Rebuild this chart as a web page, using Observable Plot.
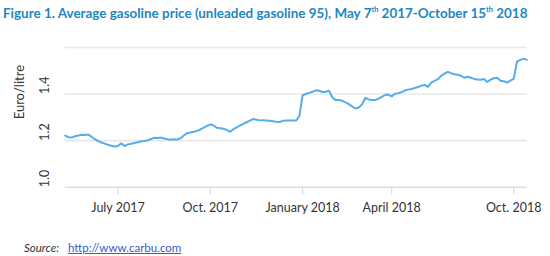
<!DOCTYPE html>
<html>
<head>
<meta charset="utf-8">
<script src="https://cdn.jsdelivr.net/npm/d3@7"></script>
<script src="https://cdn.jsdelivr.net/npm/@observablehq/plot@0.6"></script>
<style>
  html, body { margin: 0; padding: 0; background: #fff; }
  #wrap { width: 550px; height: 256px; position: relative; overflow: hidden; font-family: Lato, "Open Sans", sans-serif; }
  #title { height: 30px; box-sizing: border-box; padding: 4px 0 0 3px; font-weight: bold; font-size: 13.2px; color: #1d86c4; white-space: nowrap; line-height: 18px; }
  #title span { display: inline-block; }
  #title sup { font-size: 0.55em; vertical-align: 0; position: relative; top: -0.75em; }
  #source { height: 26px; box-sizing: border-box; padding: 11px 0 0 24px; font-size: 11.5px; color: #333; white-space: nowrap; }
  #source i { margin-right: 6px; }
  #source a { color: #3a5bc7; text-decoration: underline; }
</style>
</head>
<body>
<div id="wrap">
  <div id="title"><span id="tt">Figure 1. Average gasoline price (unleaded gasoline 95), May 7<sup>th</sup> 2017-October 15<sup>th</sup> 2018</span></div>
  <div id="chart"></div>
  <div id="source"><i>Source:</i> <a href="http://www.carbu.com">http://www.carbu.com</a></div>
</div>
<script>
// Average gasoline price (Euro/litre), observations in order, May 7th 2017 - October 15th 2018
const prices = [
  1.222, 1.214, 1.213, 1.219, 1.222, 1.225, 1.224, 1.226, 1.217, 1.206,
  1.198, 1.192, 1.187, 1.182, 1.178, 1.175, 1.177, 1.189, 1.177, 1.184,
  1.187, 1.190, 1.193, 1.197, 1.198, 1.201, 1.207, 1.212, 1.211, 1.213,
  1.209, 1.206, 1.204, 1.206, 1.205, 1.210, 1.222, 1.232, 1.235, 1.238,
  1.242, 1.248, 1.256, 1.263, 1.270, 1.265, 1.255, 1.253, 1.251, 1.246,
  1.238, 1.249, 1.257, 1.265, 1.272, 1.279, 1.286, 1.293, 1.290, 1.287,
  1.288, 1.286, 1.285, 1.283, 1.281, 1.280, 1.285, 1.287, 1.286, 1.287,
  1.286, 1.305, 1.395, 1.400, 1.405, 1.410, 1.416, 1.414, 1.409, 1.410,
  1.414, 1.385, 1.374, 1.375, 1.371, 1.364, 1.357, 1.347, 1.338, 1.342,
  1.355, 1.383, 1.377, 1.375, 1.374, 1.380, 1.388, 1.396, 1.398, 1.390,
  1.401, 1.404, 1.408, 1.415, 1.419, 1.422, 1.426, 1.430, 1.436, 1.439,
  1.431, 1.449, 1.457, 1.464, 1.478, 1.488, 1.495, 1.490, 1.485, 1.483,
  1.479, 1.470, 1.474, 1.470, 1.465, 1.463, 1.461, 1.465, 1.452, 1.462,
  1.468, 1.470, 1.457, 1.455, 1.449, 1.458, 1.465, 1.540, 1.547, 1.552,
  1.547
];
// observation index at which each month label sits
const tickObs = [16, 44, 72, 99, 136];
const tickLabels = ["July 2017", "Oct. 2017", "January 2018", "April 2018", "Oct. 2018"];
const yGrid = [1.0, 1.2, 1.4, 1.6];
const yLabels = [1.0, 1.2, 1.4];
const yTitle = "Euro/litre";

const data = prices.map((v, i) => ({i, v}));
const ticks = tickObs.map((o, k) => ({o, label: tickLabels[k]}));

const chart = Plot.plot({
  width: 550,
  height: 200,
  marginLeft: 64.7,
  marginRight: 23.6,
  marginTop: 17,
  marginBottom: 43.3,
  style: {fontFamily: "Lato, 'Open Sans', sans-serif", background: "#fff"},
  x: {type: "linear", domain: [0, prices.length - 1], axis: null},
  y: {domain: [1.0, 1.6], axis: null},
  marks: [
    Plot.ruleY(yGrid.filter(d => d > 1.0), {y: d => d, stroke: "#e8e8e8", strokeWidth: 1.6}),
    Plot.ruleY([1.0], {stroke: "#d3dff0", strokeWidth: 1.6}),
    Plot.axisX({ticks: tickObs, tickSize: 8, tickFormat: () => "", stroke: "#d3dff0", strokeWidth: 1.2}),
    Plot.text(ticks, {x: "o", text: "label", frameAnchor: "bottom", dy: 25, fontSize: 12.5, fill: "#333"}),
    Plot.text(yLabels, {y: d => d, text: d => d.toFixed(1), frameAnchor: "left", dx: -20, rotate: -90, fontSize: 12.5, fill: "#333"}),
    Plot.text([yTitle], {frameAnchor: "left", dx: -45, dy: 2, rotate: -90, fontSize: 13, fill: "#333"}),
    Plot.line(data, {x: "i", y: "v", stroke: "#56adea", strokeWidth: 2, curve: "linear"})
  ]
});
document.getElementById("chart").appendChild(chart);

// fit the title to the width it has in the reference
const tt = document.getElementById("tt");
const target = 524;
const w = tt.getBoundingClientRect().width;
if (w > 0) {
  const fs = parseFloat(getComputedStyle(document.getElementById("title")).fontSize);
  document.getElementById("title").style.fontSize = (fs * target / w).toFixed(2) + "px";
}
</script>
</body>
</html>
